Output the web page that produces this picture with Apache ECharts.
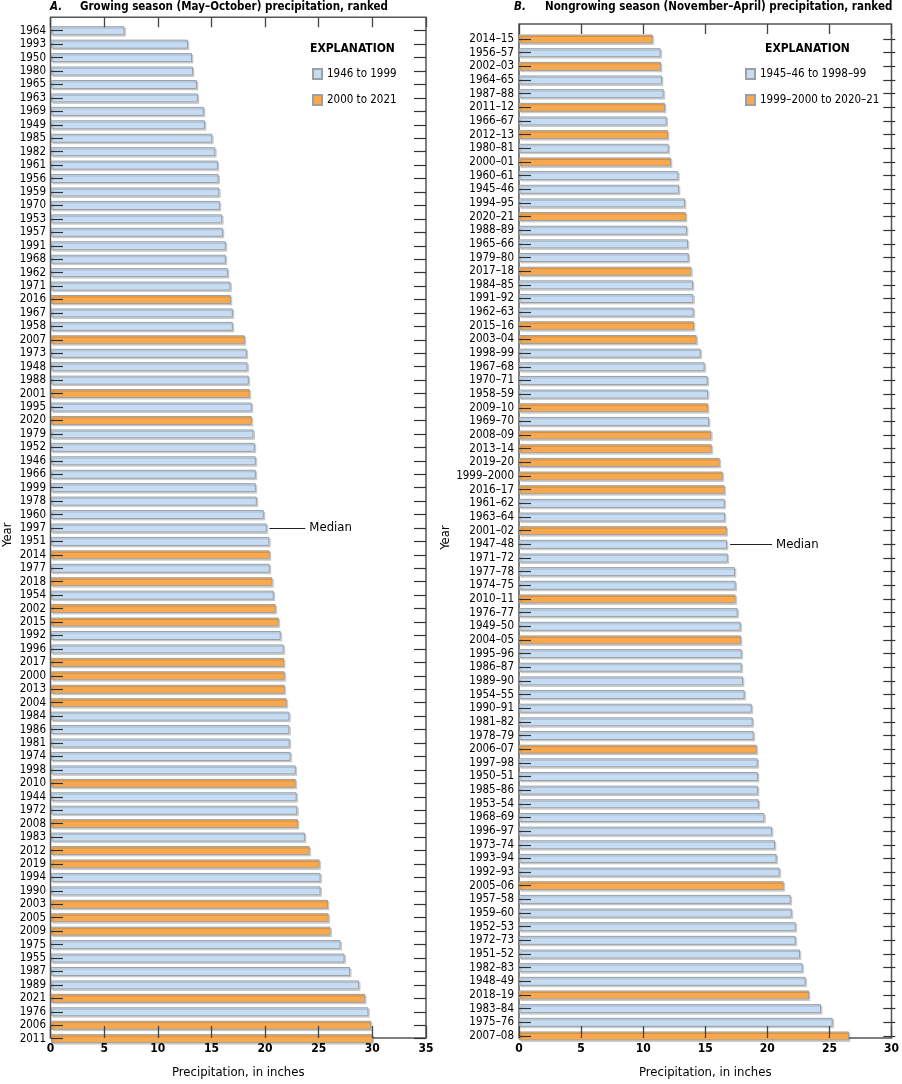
<!DOCTYPE html>
<html>
<head>
<meta charset="utf-8">
<script src="https://cdn.jsdelivr.net/npm/echarts@6/dist/echarts.min.js"></script>
<style>
  html, body { margin: 0; padding: 0; background: #fff; }
  #chart { width: 902px; height: 1084px; }
</style>
</head>
<body>
<div id="chart"></div>
<script>
// A. growing season, ranked (top to bottom)
var yearsA = ['1964','1993','1950','1980','1965','1963','1969','1949','1985','1982','1961','1956','1959','1970','1953','1957','1991','1968','1962',
  '1971','2016','1967','1958','2007','1973','1948','1988','2001','1995','2020','1979','1952','1946','1966','1999','1978','1960','1997','1951',
  '2014','1977','2018','1954','2002','2015','1992','1996','2017','2000','2013','2004','1984','1986','1981','1974','1998','2010','1944','1972',
  '2008','1983','2012','2019','1994','1990','2003','2005','2009','1975','1955','1987','1989','2021','1976','2006','2011'];
var precipA = [6.86,12.78,13.16,13.25,13.62,13.71,14.27,14.37,15.05,15.33,15.58,15.64,15.70,15.76,15.98,16.04,16.32,16.32,16.51,
  16.75,16.79,16.97,16.97,18.09,18.27,18.34,18.46,18.55,18.74,18.74,18.90,19.02,19.11,19.11,19.11,19.21,19.86,20.14,20.38,
  20.42,20.42,20.66,20.79,20.97,21.25,21.44,21.72,21.75,21.81,21.81,22.00,22.25,22.25,22.28,22.37,22.84,22.84,22.93,22.99,
  23.05,23.70,24.14,25.07,25.16,25.16,25.85,25.91,26.09,27.02,27.40,27.92,28.76,29.32,29.63,29.88,30.03];
var medianA = '1997';

// B. nongrowing season, ranked (top to bottom)
var yearsB = ['2014–15','1956–57','2002–03','1964–65','1987–88','2011–12','1966–67','2012–13','1980–81','2000–01','1960–61','1945–46',
  '1994–95','2020–21','1988–89','1965–66','1979–80','2017–18','1984–85','1991–92','1962–63','2015–16','2003–04','1998–99','1967–68',
  '1970–71','1958–59','2009–10','1969–70','2008–09','2013–14','2019–20','1999–2000','2016–17','1961–62','1963–64','2001–02','1947–48',
  '1971–72','1977–78','1974–75','2010–11','1976–77','1949–50','2004–05','1995–96','1986–87','1989–90','1954–55','1990–91','1981–82',
  '1978–79','2006–07','1997–98','1950–51','1985–86','1953–54','1968–69','1996–97','1973–74','1993–94','1992–93','2005–06','1957–58',
  '1959–60','1952–53','1972–73','1951–52','1982–83','1948–49','2018–19','1983–84','1975–76','2007–08'];
var precipB = [10.66,11.29,11.32,11.40,11.53,11.64,11.77,11.88,11.93,12.12,12.70,12.76,
  13.23,13.31,13.39,13.47,13.53,13.74,13.87,13.90,13.93,13.95,14.16,14.48,14.80,
  15.04,15.07,15.07,15.15,15.33,15.36,16.00,16.24,16.40,16.40,16.42,16.56,16.58,
  16.64,17.22,17.27,17.27,17.43,17.67,17.70,17.75,17.75,17.86,17.99,18.55,18.63,
  18.71,18.95,19.03,19.05,19.05,19.11,19.56,20.17,20.41,20.54,20.78,21.10,21.66,
  21.74,22.06,22.06,22.40,22.61,22.85,23.12,24.08,25.01,26.31];
var medianB = '1947–48';

var periodsA = ['1946 to 1999', '2000 to 2021'];
var periodsB = ['1945–46 to 1998–99', '1999–2000 to 2020–21'];
var xTicksA = { min: 0, max: 35, interval: 5 };
var xTicksB = { min: 0, max: 30, interval: 5 };

var BLUE = '#c6dcf2', ORANGE = '#f8a94f', EDGE = '#9aa0a6';
var FONT = "'Liberation Sans Narrow', 'DejaVu Sans Condensed', 'Noto Sans', sans-serif";

function split(cats, vals, isRecent) {
  var older = [], recent = [];
  cats.forEach(function (c, i) {
    if (isRecent(c)) { recent.push(vals[i]); older.push('-'); }
    else { older.push(vals[i]); recent.push('-'); }
  });
  return [older, recent];
}
var partsA = split(yearsA, precipA, function (y) { return +y >= 2000; });
var partsB = split(yearsB, precipB, function (y) { return +y.slice(0, 4) >= 1999; });

function valueOf(cats, vals, c) { return vals[cats.indexOf(c)]; }

function barStyle(color) {
  return {
    color: color, borderColor: EDGE, borderWidth: 1,
    shadowColor: 'rgba(0,0,0,0.15)', shadowOffsetX: 1.5, shadowOffsetY: 1.5, shadowBlur: 0
  };
}

function medianLine(cats, vals, c) {
  var v = valueOf(cats, vals, c);
  return {
    silent: true, symbol: 'none', animation: false,
    lineStyle: { color: '#222', width: 1, type: 'solid' },
    label: { show: true, position: 'end', formatter: 'Median', color: '#000', fontSize: 13, fontFamily: FONT, distance: 4 },
    data: [[{ coord: [v + 0.25, c] }, { coord: [v + 3.6, c] }]]
  };
}

function heading(text, left, top, size, italic) {
  return {
    text: text, left: left, top: top, padding: 0,
    textStyle: { fontSize: size, fontWeight: 'bold', fontStyle: italic ? 'italic' : 'normal', color: '#000', fontFamily: FONT }
  };
}

var chart = echarts.init(document.getElementById('chart'));

var frameX = function (grid, t, pos, labels) {
  return {
    gridIndex: grid, type: 'value', position: pos, min: t.min, max: t.max, interval: t.interval, z: 5,
    axisLine: { show: false },
    axisTick: { show: true, inside: true, length: pos === 'top' ? 10 : 12, lineStyle: { color: '#444', width: 1.3 } },
    axisLabel: { show: labels, color: '#000', fontSize: 12, fontWeight: 'bold', fontFamily: FONT, margin: 5 },
    splitLine: { show: false },
    name: labels ? 'Precipitation, in inches' : '', nameLocation: 'middle', nameGap: 28,
    nameTextStyle: { color: '#000', fontSize: 13, fontFamily: FONT }
  };
};
var hiddenX = function (grid, t) {
  return { gridIndex: grid, type: 'value', min: t.min, max: t.max, show: false };
};
var catY = function (grid, cats, pos, labels, gap) {
  return {
    gridIndex: grid, type: 'category', data: cats, inverse: true, position: pos, z: 5,
    axisLine: { show: false },
    axisTick: { show: true, inside: true, alignWithLabel: true, length: 12, lineStyle: { color: '#333', width: 1.2 } },
    axisLabel: { show: labels, color: '#000', fontSize: 11.5, fontFamily: FONT, margin: 5, interval: 0 },
    name: labels ? 'Year' : '', nameLocation: 'middle', nameRotate: 90, nameGap: gap,
    nameTextStyle: { color: '#000', fontSize: 13, fontFamily: FONT }
  };
};

var option = {
  animation: false,
  textStyle: { fontFamily: FONT },
  title: [
    heading('A.', 50, 1, 11.5, true),
    heading('Growing season (May–October) precipitation, ranked', 80, 1, 11.5, false),
    heading('B.', 514, 1, 11.5, true),
    heading('Nongrowing season (November–April) precipitation, ranked', 545, 1, 11.5, false),
    heading('EXPLANATION', 310, 43, 12, false),
    heading('EXPLANATION', 765, 43, 12, false)
  ],
  legend: [
    { data: periodsA, orient: 'vertical', left: 312, top: 68, padding: 0, icon: 'rect', itemWidth: 9, itemHeight: 10, itemGap: 14,
      textStyle: { color: '#000', fontSize: 11.5, fontFamily: FONT }, selectedMode: false },
    { data: periodsB, orient: 'vertical', left: 745, top: 68, padding: 0, icon: 'rect', itemWidth: 9, itemHeight: 10, itemGap: 14,
      textStyle: { color: '#000', fontSize: 11.5, fontFamily: FONT }, selectedMode: false }
  ],
  grid: [
    { left: 50.5, width: 375.5, top: 17.3, height: 1031, show: true, borderColor: '#555', borderWidth: 1.5, backgroundColor: 'transparent' },
    { left: 50.5, width: 375.5, top: 24, height: 1021.4 },
    { left: 519, width: 376.3, top: 24, height: 1024.3, show: true, borderColor: '#555', borderWidth: 1.5, backgroundColor: 'transparent' },
    { left: 519, width: 376.3, top: 32.2, height: 1010.6 }
  ],
  xAxis: [
    frameX(0, xTicksA, 'bottom', true),
    frameX(0, xTicksA, 'top', false),
    hiddenX(1, xTicksA),
    frameX(2, xTicksB, 'bottom', true),
    frameX(2, xTicksB, 'top', false),
    hiddenX(3, xTicksB)
  ],
  yAxis: [
    { gridIndex: 0, type: 'value', min: 0, max: 1, show: false },
    catY(1, yearsA, 'left', true, 37),
    catY(1, yearsA, 'right', false, 0),
    { gridIndex: 2, type: 'value', min: 0, max: 1, show: false },
    catY(3, yearsB, 'left', true, 56),
    catY(3, yearsB, 'right', false, 0)
  ],
  series: [
    { name: periodsA[0], type: 'bar', xAxisIndex: 2, yAxisIndex: 1, data: partsA[0], barWidth: 9, barGap: '-100%',
      itemStyle: barStyle(BLUE), markLine: medianLine(yearsA, precipA, medianA) },
    { name: periodsA[1], type: 'bar', xAxisIndex: 2, yAxisIndex: 1, data: partsA[1], barWidth: 9, barGap: '-100%',
      itemStyle: barStyle(ORANGE) },
    { name: periodsB[0], type: 'bar', xAxisIndex: 5, yAxisIndex: 4, data: partsB[0], barWidth: 9, barGap: '-100%',
      itemStyle: barStyle(BLUE), markLine: medianLine(yearsB, precipB, medianB) },
    { name: periodsB[1], type: 'bar', xAxisIndex: 5, yAxisIndex: 4, data: partsB[1], barWidth: 9, barGap: '-100%',
      itemStyle: barStyle(ORANGE) }
  ]
};
chart.setOption(option);
</script>
</body>
</html>
